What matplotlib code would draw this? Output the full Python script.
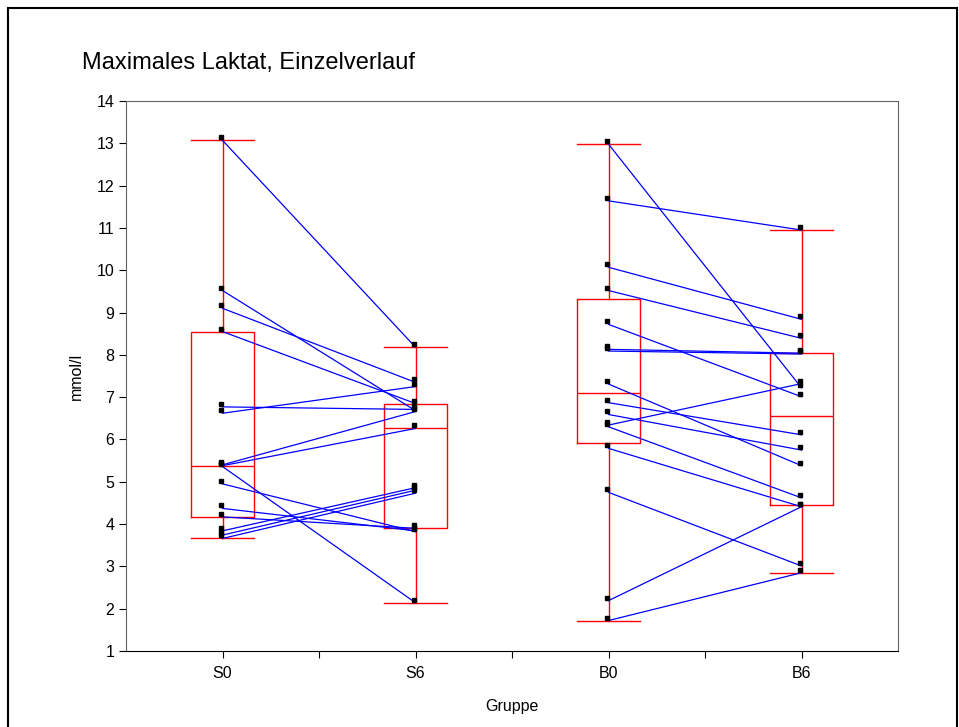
import numpy as np
import matplotlib
matplotlib.use("Agg")
import matplotlib.pyplot as plt
from matplotlib.patches import Rectangle
from matplotlib.transforms import offset_copy

plt.rcParams['font.family'] = ['Liberation Sans', 'DejaVu Sans']

# Daten (mmol/l), paarweise: S0 -> S6, B0 -> B6
gruppen = ['S0', 'S6', 'B0', 'B6']
s0 = [13.07, 9.52, 9.10, 8.55, 6.77, 6.62, 5.40, 5.38, 5.36, 4.95, 4.37, 4.17, 3.84, 3.74, 3.66]
s6 = [8.18, 6.68, 7.35, 6.85, 6.71, 7.25, 6.66, 6.26, 2.14, 3.82, 3.84, 3.90, 4.86, 4.80, 4.73]
b0 = [12.98, 11.64, 10.07, 9.52, 8.72, 8.13, 8.09, 7.31, 6.87, 6.59, 6.34, 6.30, 5.79, 4.75, 2.19, 1.72]
b6 = [7.22, 10.95, 8.84, 8.39, 7.01, 8.04, 8.02, 5.38, 6.11, 5.75, 7.32, 4.62, 4.41, 3.01, 4.41, 2.85]

daten = [s0, s6, b0, b6]
pos = [0.5, 1.5, 2.5, 3.5]

fig = plt.figure(figsize=(9.59, 7.27), dpi=100)
ax = fig.add_axes([126/959, 1 - 651/727, 772/959, 550/727])

# Boxplots: Quartile nach p(n+1), Whisker bis Min/Max
stats = []
for d in daten:
    q1, med, q3 = np.percentile(d, [25, 50, 75], method='weibull')
    stats.append(dict(med=med, q1=q1, q3=q3, whislo=min(d), whishi=max(d), fliers=[]))
rot = dict(color='#ff0000', linewidth=1.0)
ax.bxp(stats, positions=pos, widths=0.33, capwidths=0.33, showfliers=False,
       boxprops=rot, whiskerprops=rot, capprops=rot, medianprops=rot,
       manage_ticks=False, zorder=2)

# Einzelverlaeufe
for a, b, xa in [(s0, s6, 0), (b0, b6, 2)]:
    for ya, yb in zip(a, b):
        ax.plot([pos[xa], pos[xa + 1]], [ya, yb], color='#0000ff', linewidth=0.9, zorder=3)

# Punkte (leicht versetzt wie im Original)
trans = offset_copy(ax.transData, fig=fig, x=-2, y=3, units='dots')
for p, d in zip(pos, daten):
    ax.plot([p] * len(d), d, linestyle='none', marker='s', markersize=3.2,
            color='black', transform=trans, zorder=4)

ax.set_xlim(0, 4)
ax.set_ylim(1, 14)
ax.set_yticks(range(1, 15))
ax.set_xticks(pos)
ax.set_xticklabels(gruppen)
ax.set_xticks([1, 2, 3], minor=True)
ax.tick_params(axis='both', which='both', direction='out', length=5, width=0.8,
               labelsize=11.5, colors='black')
ax.tick_params(axis='x', pad=6)
for s in ['left', 'top', 'right']:
    ax.spines[s].set_color('#606060')
ax.spines['bottom'].set_color('black')

ax.set_xlabel('Gruppe', fontsize=11.5, labelpad=13)
ax.set_ylabel('mmol/l', fontsize=11.5, labelpad=9)

fig.text(82/959, 1 - 69/727, 'Maximales Laktat, Einzelverlauf', fontsize=17,
         ha='left', va='baseline')

# Rahmen um die Grafik
fig.patches.append(Rectangle((8/959, -0.01), 949/959, 1.01 - 8/727, transform=fig.transFigure,
                             fill=False, edgecolor='black', linewidth=1.5))

fig.savefig('out.png', dpi=100)
